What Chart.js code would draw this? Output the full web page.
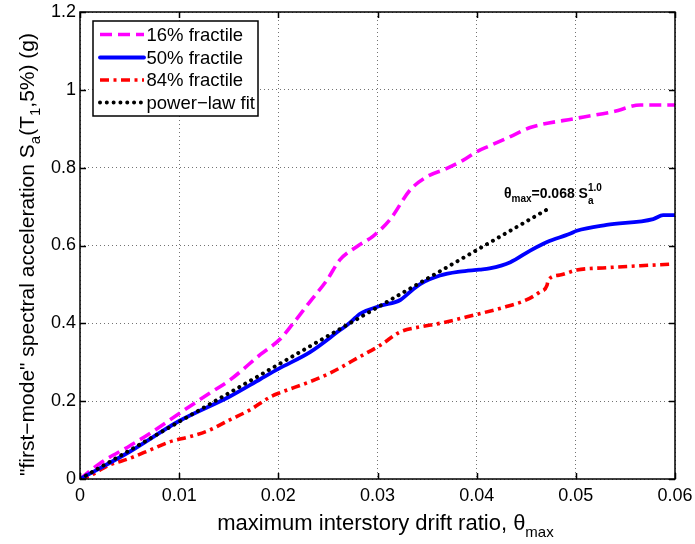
<!DOCTYPE html>
<html>
<head>
<meta charset="utf-8">
<script src="https://cdn.jsdelivr.net/npm/chart.js@4/dist/chart.umd.min.js"></script>
<style>
  html, body { margin: 0; padding: 0; background: #fff; }
  canvas { display: block; }
</style>
</head>
<body>
<canvas id="c" width="695" height="544"></canvas>
<script>
// Maximum interstory drift ratio vs. "first-mode" spectral acceleration (IDA fractiles)
const driftTicks = [0, 0.01, 0.02, 0.03, 0.04, 0.05, 0.06];
const driftTickLabels = ['0', '0.01', '0.02', '0.03', '0.04', '0.05', '0.06'];
const saTicks = [0, 0.2, 0.4, 0.6, 0.8, 1.0, 1.2];
const saTickLabels = ['0', '0.2', '0.4', '0.6', '0.8', '1', '1.2'];

// 16% fractile
const drift16 = [0, 0.002, 0.005, 0.0071, 0.0101, 0.0131, 0.0151, 0.0182, 0.0202, 0.0215, 0.0232, 0.0249, 0.0262, 0.0279, 0.0296, 0.0313, 0.0333, 0.035, 0.037, 0.0387, 0.04, 0.0413, 0.0434, 0.0454, 0.0501, 0.0538, 0.0565, 0.06];
const sa16    = [0, 0.04, 0.085, 0.118, 0.17, 0.221, 0.254, 0.32, 0.36, 0.40, 0.456, 0.511, 0.563, 0.597, 0.625, 0.668, 0.743, 0.777, 0.798, 0.82, 0.841, 0.856, 0.88, 0.903, 0.927, 0.944, 0.961, 0.961];

// 50% fractile
const drift50 = [0, 0.005, 0.01, 0.0151, 0.0182, 0.02, 0.0232, 0.0262, 0.027, 0.0278, 0.0282, 0.0303, 0.0323, 0.0333, 0.0343, 0.0363, 0.0383, 0.0403, 0.0413, 0.0434, 0.0454, 0.0471, 0.0494, 0.0501, 0.0531, 0.0578, 0.0588, 0.06];
const sa50    = [0, 0.07, 0.149, 0.212, 0.257, 0.283, 0.326, 0.382, 0.397, 0.415, 0.424, 0.445, 0.46, 0.481, 0.501, 0.523, 0.533, 0.538, 0.541, 0.557, 0.587, 0.609, 0.63, 0.638, 0.653, 0.668, 0.678, 0.678];

// 84% fractile
const drift84 = [0, 0.001, 0.002, 0.003, 0.005, 0.0071, 0.0091, 0.0111, 0.0131, 0.0151, 0.0171, 0.0192, 0.0202, 0.0232, 0.0252, 0.0282, 0.0303, 0.0323, 0.0343, 0.0363, 0.0397, 0.043, 0.045, 0.0464, 0.0471, 0.0472, 0.0484, 0.0501, 0.0531, 0.0565, 0.0595];
const sa84    = [0, 0.008, 0.023, 0.036, 0.053, 0.075, 0.096, 0.109, 0.126, 0.152, 0.177, 0.211, 0.222, 0.25, 0.272, 0.314, 0.344, 0.378, 0.391, 0.40, 0.421, 0.443, 0.46, 0.481, 0.498, 0.511, 0.524, 0.537, 0.543, 0.548, 0.552];

// power-law fit: theta_max = 0.068 * Sa^1.0
const driftFit = [0, 0.0472];
const saFit    = [0, 0.694];

const seriesNames = ['16% fractile', '50% fractile', '84% fractile', 'power\u2212law fit'];

const FONT = '"Liberation Sans", Arial, Helvetica, sans-serif';

const toPoints = (xs, ys) => xs.map((x, i) => ({ x: x, y: ys[i] }));

const datasets = [
  { label: seriesNames[0], data: toPoints(drift16, sa16), borderColor: '#ff00ff', borderWidth: 3.6,
    borderDash: [12, 6], borderCapStyle: 'butt', order: 3 },
  { label: seriesNames[1], data: toPoints(drift50, sa50), borderColor: '#0000ff', borderWidth: 3.8,
    borderDash: [], borderCapStyle: 'round', order: 1 },
  { label: seriesNames[2], data: toPoints(drift84, sa84), borderColor: '#ff0000', borderWidth: 3.6,
    borderDash: [9, 4.5, 3, 4.5], borderCapStyle: 'butt', order: 2 },
  { label: seriesNames[3], data: toPoints(driftFit, saFit), borderColor: '#000000', borderWidth: 4,
    borderDash: [0.01, 6.8], borderCapStyle: 'round', order: 0 }
].map(d => Object.assign({ pointRadius: 0, fill: false, cubicInterpolationMode: 'monotone',
  borderJoinStyle: 'round' }, d));

// Axes box with inward tick marks on all four sides
const framePlugin = {
  id: 'frame',
  afterDatasetsDraw(chart) {
    const { ctx, chartArea: a, scales } = chart;
    ctx.save();
    ctx.strokeStyle = '#000';
    ctx.lineWidth = 1.5;
    const tl = 6;
    ctx.beginPath();
    driftTicks.forEach(v => {
      const px = Math.round(scales.x.getPixelForValue(v)) + 0.5;
      ctx.moveTo(px, a.bottom); ctx.lineTo(px, a.bottom - tl);
      ctx.moveTo(px, a.top); ctx.lineTo(px, a.top + tl);
    });
    saTicks.forEach(v => {
      const py = Math.round(scales.y.getPixelForValue(v)) + 0.5;
      ctx.moveTo(a.left, py); ctx.lineTo(a.left + tl, py);
      ctx.moveTo(a.right, py); ctx.lineTo(a.right - tl, py);
    });
    ctx.stroke();
    ctx.strokeRect(a.left, a.top, a.right - a.left, a.bottom - a.top);
    ctx.restore();
  }
};

// draws a run of [text, kind] pieces; kind: 'n' normal, 'sub', 'subsup' stacked pair
function drawRich(ctx, parts, x, y, size, weight) {
  let cx = x;
  parts.forEach(p => {
    const [txt, kind, extra] = p;
    if (kind === 'n') {
      ctx.font = `${weight} ${size}px ${FONT}`;
      ctx.fillText(txt, cx, y);
      cx += ctx.measureText(txt).width;
    } else if (kind === 'sub') {
      ctx.font = `${weight} ${Math.round(size * 0.7)}px ${FONT}`;
      ctx.fillText(txt, cx, y + size * 0.3);
      cx += ctx.measureText(txt).width;
    } else if (kind === 'subsup') {
      ctx.font = `${weight} ${Math.round(size * 0.72)}px ${FONT}`;
      ctx.fillText(txt, cx, y + size * 0.42);
      const w1 = ctx.measureText(txt).width;
      ctx.fillText(extra, cx, y - size * 0.5);
      const w2 = ctx.measureText(extra).width;
      cx += Math.max(w1, w2);
    }
  });
  return cx - x;
}
function richWidth(ctx, parts, size, weight) {
  let w = 0;
  parts.forEach(p => {
    const [txt, kind, extra] = p;
    if (kind === 'n') { ctx.font = `${weight} ${size}px ${FONT}`; w += ctx.measureText(txt).width; }
    else if (kind === 'sub') { ctx.font = `${weight} ${Math.round(size * 0.7)}px ${FONT}`; w += ctx.measureText(txt).width; }
    else { ctx.font = `${weight} ${Math.round(size * 0.72)}px ${FONT}`;
      w += Math.max(ctx.measureText(txt).width, ctx.measureText(extra).width); }
  });
  return w;
}

// Axis titles and the fit annotation
const textPlugin = {
  id: 'texts',
  afterDraw(chart) {
    const { ctx, chartArea: a, scales } = chart;
    ctx.save();
    ctx.fillStyle = '#000';
    ctx.textBaseline = 'alphabetic';
    ctx.textAlign = 'left';

    // x title
    const xParts = [['maximum interstory drift ratio, \u03b8', 'n'], ['max', 'sub']];
    const xSize = 22;
    const xw = richWidth(ctx, xParts, xSize, 'normal');
    drawRich(ctx, xParts, (a.left + a.right) / 2 + 8 - xw / 2, 530, xSize, 'normal');

    // y title (rotated)
    const yParts = [['"first\u2212mode" spectral acceleration S', 'n'], ['a', 'sub'], ['(T', 'n'], ['1', 'sub'], [',5%) (g)', 'n']];
    const ySize = 21;
    const yw = richWidth(ctx, yParts, ySize, 'normal');
    ctx.translate(34, (a.top + a.bottom) / 2 + 9);
    ctx.rotate(-Math.PI / 2);
    drawRich(ctx, yParts, -yw / 2, 0, ySize, 'normal');
    ctx.setTransform(1, 0, 0, 1, 0, 0);

    // annotation next to the fit line
    const ax = scales.x.getPixelForValue(0.04275);
    const ay = scales.y.getPixelForValue(0.722);
    const aParts = [['\u03b8', 'n'], ['max', 'sub'], ['=0.068 S', 'n'], ['a', 'subsup', '1.0']];
    drawRich(ctx, aParts, ax, ay, 14, 'bold');
    ctx.restore();
  }
};

// Legend box in the upper-left corner of the plot
const legendPlugin = {
  id: 'boxLegend',
  afterDraw(chart) {
    const { ctx, chartArea: a } = chart;
    const bx = a.left + 13, by = a.top + 9, bw = 165, bh = 95;
    ctx.save();
    ctx.fillStyle = '#fff';
    ctx.fillRect(bx, by, bw, bh);
    ctx.strokeStyle = '#000';
    ctx.lineWidth = 1.5;
    ctx.strokeRect(bx, by, bw, bh);
    const rows = [by + 13.5, by + 36.5, by + 59, by + 81.5];
    chart.data.datasets.forEach((d, i) => {
      const y = rows[i];
      ctx.strokeStyle = d.borderColor;
      ctx.lineWidth = d.borderWidth;
      ctx.lineCap = d.borderCapStyle;
      ctx.setLineDash(d.borderDash);
      ctx.beginPath();
      ctx.moveTo(bx + 7, y);
      ctx.lineTo(bx + 51, y);
      ctx.stroke();
      ctx.setLineDash([]);
      ctx.fillStyle = '#000';
      ctx.font = `18.5px ${FONT}`;
      ctx.textBaseline = 'middle';
      ctx.textAlign = 'left';
      ctx.fillText(d.label, bx + 53.5, y + 1);
    });
    ctx.restore();
  }
};

const tickFont = { family: FONT, size: 18 };
const gridStyle = { color: 'rgba(0,0,0,0.55)', lineWidth: 1, drawTicks: false };

new Chart(document.getElementById('c'), {
  type: 'line',
  data: { datasets: datasets },
  options: {
    responsive: false,
    animation: false,
    devicePixelRatio: 1,
    layout: { padding: { left: 0, right: 20, top: 12, bottom: 0 } },
    plugins: { legend: { display: false }, tooltip: { enabled: false } },
    scales: {
      x: {
        type: 'linear', min: 0, max: 0.06,
        afterFit(s) { s.height = 65; s.paddingLeft = 0; s.paddingRight = 0; },
        afterBuildTicks(s) { s.ticks = driftTicks.map(v => ({ value: v })); },
        ticks: { callback: (v, i) => driftTickLabels[i], font: tickFont, color: '#000',
          padding: 6, maxRotation: 0, autoSkip: false },
        grid: gridStyle,
        border: { display: false, dash: [1, 3] }
      },
      y: {
        type: 'linear', min: 0, max: 1.2,
        afterFit(s) { s.width = 80; s.paddingTop = 0; s.paddingBottom = 0; },
        afterBuildTicks(s) { s.ticks = saTicks.map(v => ({ value: v })); },
        ticks: { callback: (v, i) => saTickLabels[i], font: tickFont, color: '#000',
          padding: 4, autoSkip: false },
        grid: gridStyle,
        border: { display: false, dash: [1, 3] }
      }
    }
  },
  plugins: [framePlugin, textPlugin, legendPlugin]
});
</script>
</body>
</html>
